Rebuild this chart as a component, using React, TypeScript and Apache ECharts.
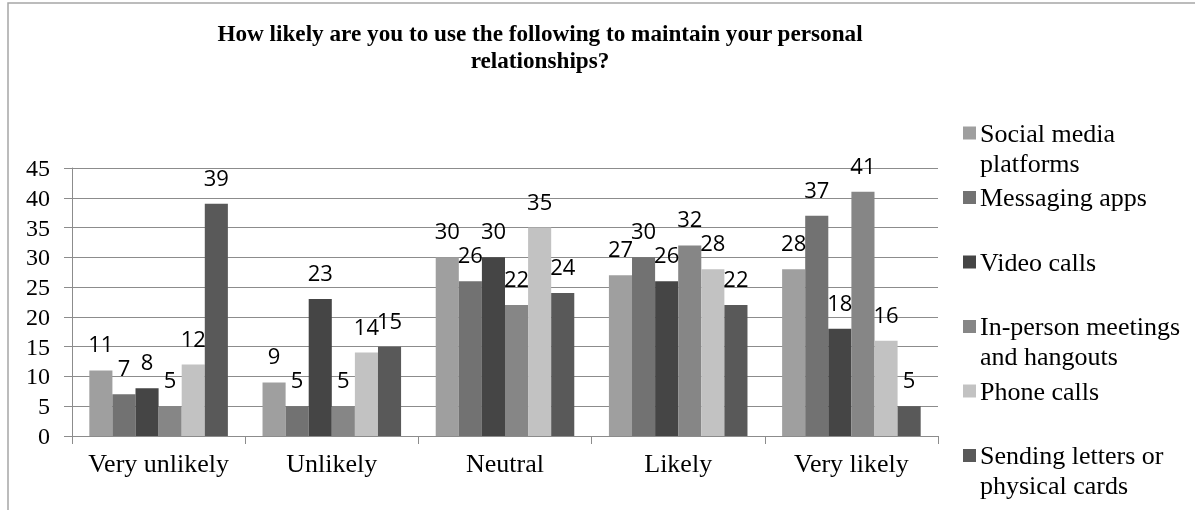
import React, { useEffect, useRef } from "react";
import * as echarts from "echarts";

const categories = ["Very unlikely", "Unlikely", "Neutral", "Likely", "Very likely"];
const seriesNames = [
  "Social media platforms",
  "Messaging apps",
  "Video calls",
  "In-person meetings and hangouts",
  "Phone calls",
  "Sending letters or physical cards",
];
const legendLabels = [
  "Social media\nplatforms",
  "Messaging apps",
  "Video calls",
  "In-person meetings\nand hangouts",
  "Phone calls",
  "Sending letters or\nphysical cards",
];
const socialMedia = [11, 9, 30, 27, 28];
const messagingApps = [7, 5, 26, 30, 37];
const videoCalls = [8, 23, 30, 26, 18];
const inPerson = [5, 5, 22, 32, 41];
const phoneCalls = [12, 14, 35, 28, 16];
const letters = [39, 15, 24, 22, 5];
const seriesData = [socialMedia, messagingApps, videoCalls, inPerson, phoneCalls, letters];
const colors = ["#9f9f9f", "#727272", "#454545", "#868686", "#c2c2c2", "#595959"];
const titleText = "How likely are you to use the following to maintain your personal\nrelationships?";

const SERIF = "'Liberation Serif', 'Times New Roman', serif";
const SANS = "'Open Sans', sans-serif";

export default function App() {
  const ref = useRef<HTMLDivElement>(null);
  useEffect(() => {
    if (!ref.current) return;
    const chart = echarts.init(ref.current, undefined, { renderer: "svg" });
    const legends = seriesNames.map((name, i) => {
      const lbl = legendLabels[i];
      const twoLine = lbl.includes("\n");
      const center = 128 + 64.5 * i;
      return {
        data: [name],
        orient: "vertical",
        left: 958,
        top: twoLine ? center - 45 : center - 15,
        itemWidth: 13,
        itemHeight: 13,
        itemGap: 0,
        icon: "rect",
        selectedMode: false,
        formatter: () => (twoLine ? "\n" + lbl : lbl),
        textStyle: { fontFamily: SERIF, fontSize: 26, lineHeight: 30, color: "#000", padding: [0, 0, 0, -1] },
      };
    });
    chart.setOption({
      animation: false,
      color: colors,
      title: {
        text: titleText,
        left: 535,
        top: 14,
        textAlign: "center",
        textStyle: { fontFamily: SERIF, fontSize: 23.2, fontWeight: "bold", lineHeight: 27, color: "#000" },
      },
      legend: legends,
      grid: { left: 72, right: 257, top: 168, bottom: 74, containLabel: false },
      xAxis: {
        type: "category",
        data: categories,
        axisLine: { lineStyle: { color: "#8c8c8c", width: 1 } },
        axisTick: { show: true, length: 8, lineStyle: { color: "#8c8c8c" } },
        axisLabel: { fontFamily: SERIF, fontSize: 26, color: "#000", margin: 14, interval: 0, hideOverlap: false },
      },
      yAxis: {
        type: "value",
        min: 0,
        max: 45,
        interval: 5,
        axisLine: { show: true, lineStyle: { color: "#8c8c8c", width: 1 } },
        axisTick: { show: true, length: 8, lineStyle: { color: "#8c8c8c" } },
        splitLine: { lineStyle: { color: "#8c8c8c", width: 1 } },
        axisLabel: { fontFamily: SERIF, fontSize: 24, color: "#000", margin: 22 },
      },
      graphic: [
        {
          type: "rect",
          shape: { x: 8, y: 3, width: 1200, height: 600 },
          style: { fill: "none", stroke: "#a6a6a6", lineWidth: 1.5 },
          silent: true,
        },
      ],
      series: seriesNames.map((name, i) => ({
        name,
        type: "bar",
        data: seriesData[i],
        barGap: "0%",
        barCategoryGap: "20%",
        itemStyle: { color: colors[i] },
        label: {
          show: true,
          position: "top",
          distance: 16,
          fontFamily: SANS,
          fontSize: 22,
          color: "#000",
        },
      })),
    });
    return () => chart.dispose();
  }, []);
  return <div ref={ref} style={{ position: "fixed", left: 0, top: 0, width: 1195, height: 510 }} />;
}
